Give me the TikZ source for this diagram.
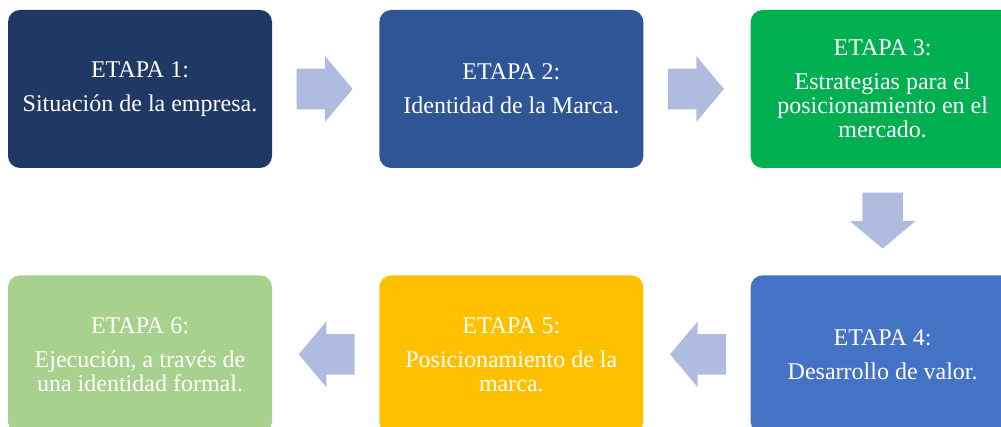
\documentclass[tikz,border=0pt]{standalone}
\usepackage{fontspec}
\setmainfont{Liberation Serif}
\usetikzlibrary{positioning,calc,shapes.arrows}

\definecolor{etapaA}{HTML}{203864}
\definecolor{etapaB}{HTML}{2F5597}
\definecolor{etapaC}{HTML}{00B050}
\definecolor{etapaD}{HTML}{4472C4}
\definecolor{etapaE}{HTML}{FFC000}
\definecolor{etapaF}{HTML}{A9D18E}
\definecolor{flechacol}{RGB}{176,188,223}

\begin{document}
\begin{tikzpicture}[
  node distance=80.5pt and 80.5pt,
  etapa/.style={rounded corners=9pt,align=center,minimum width=198pt,minimum height=118.5pt,outer sep=0pt,text=white,font=\fontsize{18}{18}\selectfont},
  flecha/.style={single arrow,fill=flechacol,draw=none,anchor=tail,inner xsep=0pt,inner ysep=15pt,minimum height=42pt,minimum width=48.75pt,single arrow head extend=9.4pt,single arrow tip angle=100},
  flechabajo/.style={flecha,shape border rotate=270,inner xsep=15pt,inner ysep=0pt}
]
\clip (0,0) rectangle (750.75pt,-320.25pt);
\node[etapa,fill=etapaA,anchor=north west] (e1) at (6pt,-7.5pt) {ETAPA 1:\\[7.5pt]Situación de la empresa.};
\node[etapa,fill=etapaB,right=of e1] (e2) {ETAPA 2:\\[7.5pt]Identidad de la Marca.};
\node[etapa,fill=etapaC,right=of e2] (e3) {ETAPA 3:\\[7.5pt]Estrategias para el\\posicionamiento en el\\mercado.};
\node[etapa,fill=etapaD,below=of e3] (e4) {ETAPA 4:\\[7.5pt]Desarrollo de valor.};
\node[etapa,fill=etapaE,left=of e4] (e5) {ETAPA 5:\\[7.5pt]Posicionamiento de la\\marca.};
\node[etapa,fill=etapaF,left=of e5] (e6) {ETAPA 6:\\[7.5pt]Ejecución, a través de\\una identidad formal.};
% flechas entre etapas
\node[flecha,xshift=-22pt] (a1) at ($(e1.east)!0.5!(e2.west)$) {};
\node[flecha,xshift=-22pt] (a2) at ($(e2.east)!0.5!(e3.west)$) {};
\node[flechabajo,yshift=22pt] (a3) at ($(e3.south)!0.5!(e4.north)$) {};
\node[flecha,shape border rotate=180,xshift=22pt] (a4) at ($(e4.west)!0.5!(e5.east)$) {};
\node[flecha,shape border rotate=180,xshift=22pt] (a5) at ($(e5.west)!0.5!(e6.east)$) {};
\end{tikzpicture}
\end{document}
